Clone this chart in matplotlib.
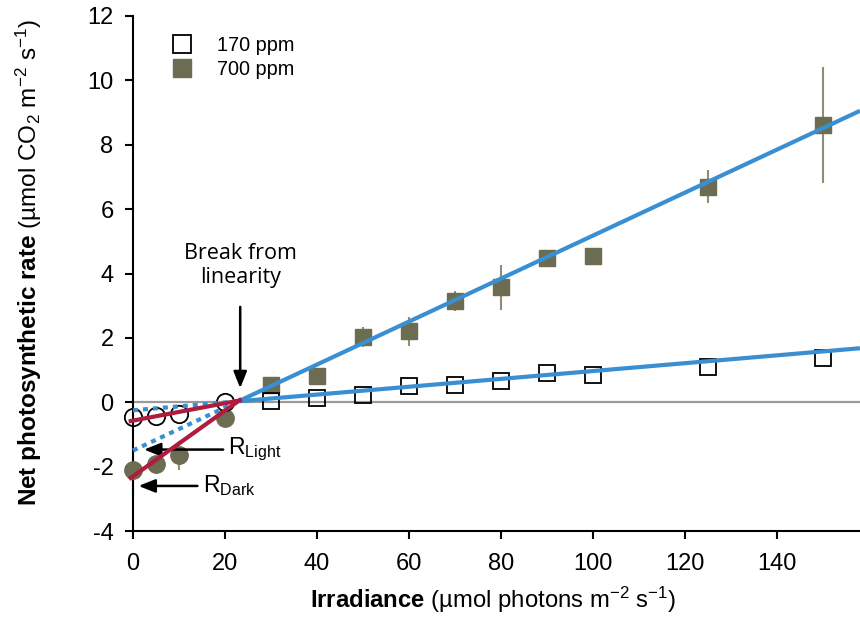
import numpy as np
import matplotlib
matplotlib.use("Agg")
import matplotlib.pyplot as plt
from matplotlib import font_manager

narrow = 'Liberation Sans Narrow'
names = {f.name for f in font_manager.fontManager.ttflist}
if narrow not in names:
    narrow = 'Liberation Sans'

plt.rcParams['font.family'] = [narrow, 'DejaVu Sans']
plt.rcParams['mathtext.fontset'] = 'custom'
plt.rcParams['mathtext.rm'] = narrow
plt.rcParams['mathtext.bf'] = narrow + ':bold'
plt.rcParams['mathtext.it'] = narrow + ':italic'
plt.rcParams['axes.unicode_minus'] = False

# low light points (circles)
low_x = [0, 5, 10, 20]
low_170 = [-0.47, -0.43, -0.36, 0.02]
low_700 = [-2.12, -1.93, -1.64, -0.48]
low_700_err = [0.9, 0.0, 0.45, 0.0]

# high light points (squares)
irr = [30, 40, 50, 60, 70, 80, 90, 100, 125, 150]
ppm170 = [0.04, 0.14, 0.24, 0.5, 0.55, 0.65, 0.9, 0.85, 1.1, 1.38]
ppm700 = [0.53, 0.82, 2.03, 2.2, 3.15, 3.57, 4.48, 4.55, 6.7, 8.62]
ppm700_err = [0.0, 0.0, 0.3, 0.45, 0.3, 0.7, 0.15, 0.0, 0.52, 1.8]

# fitted lines (intercept, slope)
fit170 = (-0.25, 0.0122)
fit700 = (-1.5, 0.0668)
red170 = (-0.57, 0.027)
red700 = (-2.3, 0.102)
x_break = 23.2
x_max = 158

blue = '#3A8FD2'
red = '#B01C3E'
olive = '#6C6C52'
olive_err = '#8E8E76'

fig = plt.figure(figsize=(8.6, 6.17), dpi=100)
ax = fig.add_axes([133/860, 86/617, 727/860, 515/617])

ax.plot([0, x_max], [0, 0], color='#9A9A9A', lw=1.6, zorder=1)

# markers
ax.errorbar(irr, ppm700, yerr=ppm700_err, fmt='none', ecolor=olive_err, elinewidth=1.5, zorder=2)
ax.errorbar(low_x, low_700, yerr=low_700_err, fmt='none', ecolor=olive_err, elinewidth=1.5, zorder=2, clip_on=False)
h700, = ax.plot(irr, ppm700, 's', ms=11.5, mfc=olive, mec=olive, zorder=3, label='700 ppm')
h170, = ax.plot(irr, ppm170, 's', ms=11.5, mfc='none', mec='black', mew=1.3, zorder=3, label='170 ppm')
ax.plot(low_x, low_700, 'o', ms=12.5, mfc=olive, mec=olive, zorder=3, clip_on=False)
ax.plot(low_x, low_170, 'o', ms=12.5, mfc='none', mec='black', mew=1.3, zorder=3, clip_on=False)

# fitted lines
xs = np.array([x_break, x_max])
xd = np.array([0, x_break])
for a, b in [fit170, fit700]:
    ax.plot(xs, a + b * xs, color=blue, lw=3, zorder=4, solid_capstyle='butt')
    ax.plot(xd, a + b * xd, color=blue, lw=3, ls=(0, (1.2, 1.2)), zorder=4, clip_on=False)
xr = np.array([-0.5, x_break])
for a, b in [red170, red700]:
    ax.plot(xr, a + b * xr, color=red, lw=3, zorder=5, clip_on=False)

# annotations
arrow = dict(arrowstyle='-|>,head_width=0.4,head_length=1.0', color='black', lw=1.8)
ax.text(23.3, 4.25, 'Break from\nlinearity', ha='center', va='center', fontsize=15.5,
        family=['Open Sans', 'DejaVu Sans'], linespacing=1.2)
ax.annotate('', xy=(23.3, 0.35), xytext=(23.3, 3.05), arrowprops=arrow)
ax.annotate('', xy=(1.8, -1.47), xytext=(20.2, -1.47), arrowprops=arrow)
ax.text(20.7, -1.45, r'R$_{\mathrm{Light}}$', ha='left', va='center', fontsize=16.5,
        family='Liberation Sans')
ax.annotate('', xy=(0.6, -2.6), xytext=(14.6, -2.6), arrowprops=arrow)
ax.text(15.2, -2.58, r'R$_{\mathrm{Dark}}$', ha='left', va='center', fontsize=16.5,
        family='Liberation Sans')

ax.set_xlim(0, x_max)
ax.set_ylim(-4, 12)
ax.set_xticks(np.arange(0, 141, 20))
ax.set_yticks(np.arange(-4, 13, 2))
ax.spines['top'].set_visible(False)
ax.spines['right'].set_visible(False)
ax.spines['left'].set_linewidth(1.5)
ax.spines['bottom'].set_linewidth(1.5)
ax.tick_params(direction='out', length=6, width=1.5, labelsize=17)
ax.tick_params(axis='x', pad=10)
ax.tick_params(axis='y', pad=8)

ax.set_xlabel(r'$\mathbf{Irradiance}$ (µmol photons m$^{-2}$ s$^{-1}$)', fontsize=17.2)
ax.set_ylabel(r'$\mathbf{Net\ photosynthetic\ rate}$ (µmol CO$_2$ m$^{-2}$ s$^{-1}$)', fontsize=17.5)
ax.xaxis.set_label_coords(0.495, -0.105)
ax.yaxis.set_label_coords(-0.123, 0.522)

ax.legend(handles=[h170, h700], loc='upper left', bbox_to_anchor=(0.015, 0.995), frameon=False,
          prop={'family': 'Liberation Sans', 'size': 14.3}, handletextpad=0.8,
          labelspacing=0.25, markerscale=1.1)

fig.savefig('out.png', dpi=100)
